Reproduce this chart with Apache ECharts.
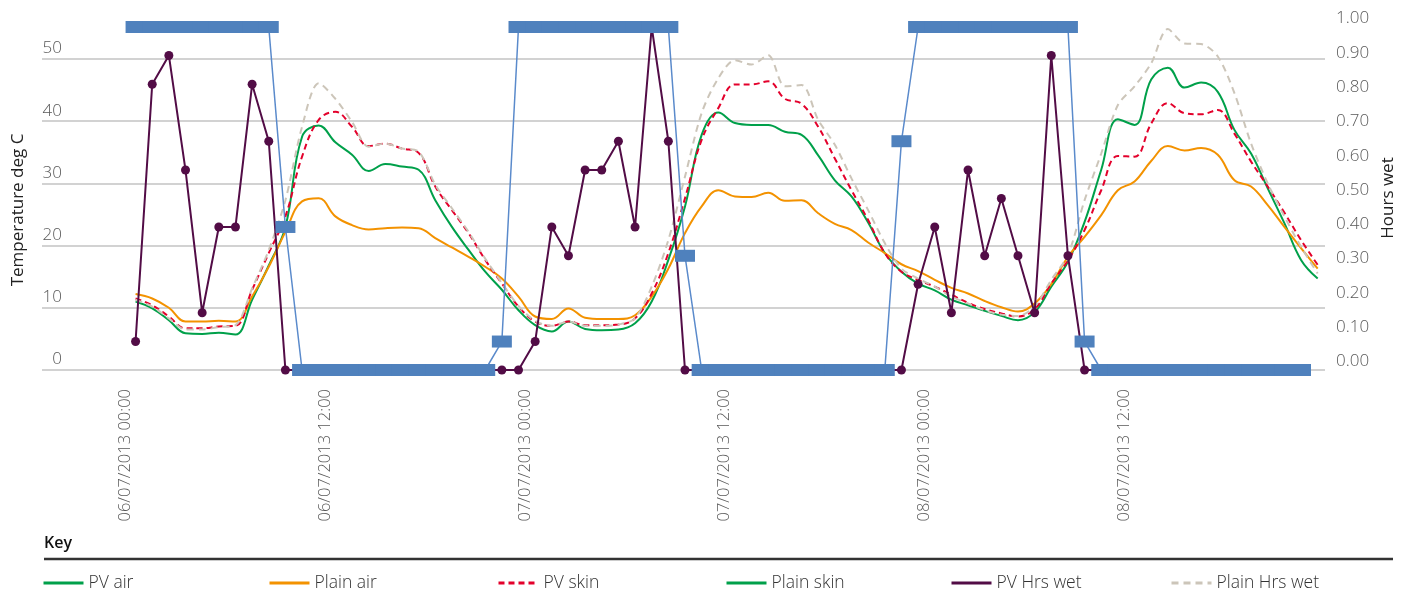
<!DOCTYPE html>
<html><head><meta charset="utf-8">
<script src="https://cdn.jsdelivr.net/npm/echarts@6/dist/echarts.min.js"></script>
<style>html,body{margin:0;padding:0;background:#fff}#c{width:1411px;height:598px}</style>
</head><body><div id="c"></div>
<script>
// Hourly readings (first reading ~00:37 on 06/07/2013)
const firstReadingHour = 0.62;
const pvAir = [11.0,9.9,8.0,5.9,5.8,6.0,5.7,11.3,16.8,23.0,37.5,39.3,36.6,34.6,32.0,33.1,32.7,32.2,27.3,23.0,19.3,15.8,12.9,9.6,
  7.2,6.2,7.8,6.6,6.4,6.5,7.5,11.0,17.7,26.3,37.8,41.4,39.7,39.4,39.4,38.3,37.8,34.5,30.5,27.9,23.7,18.8,15.8,13.9,
  12.8,11.3,10.4,9.5,8.7,8.0,9.3,13.4,17.4,23.8,32.2,40.3,39.4,46.7,48.6,45.4,46.2,44.7,38.6,34.8,29.2,23.6,17.7,14.7];
const plainAir = [12.2,11.5,10.0,7.8,7.8,7.9,7.8,11.8,16.6,22.2,27.1,27.6,24.7,23.3,22.6,22.8,22.9,22.8,21.2,19.7,18.2,16.6,14.7,11.8,
  8.6,8.2,9.9,8.4,8.2,8.2,8.8,11.8,16.3,22.0,26.3,28.9,27.9,27.8,28.5,27.2,27.3,25.2,23.5,22.5,20.5,18.8,17.0,15.9,
  14.5,13.2,12.3,11.1,10.1,9.4,10.7,13.8,18.2,21.4,24.9,28.9,30.3,33.6,36.0,35.3,35.7,34.6,30.5,29.5,26.5,23.0,19.6,16.3];
const pvSkin = [11.5,10.4,8.6,6.7,6.7,7.0,7.1,12.9,18.8,24.7,34.3,40.2,41.5,39.1,36.0,36.4,35.6,34.9,29.5,25.7,22.0,17.7,13.9,10.2,
  7.8,7.1,7.8,7.2,7.2,7.3,8.3,12.3,18.8,27.6,37.0,42.1,45.9,45.9,46.4,43.6,42.8,39.1,34.0,28.9,24.1,18.8,15.8,14.5,
  13.4,12.1,10.8,9.8,9.1,8.6,9.8,13.9,17.6,22.5,28.9,34.4,34.3,39.6,42.9,41.3,41.1,41.8,38.0,33.5,29.5,25.3,20.9,16.9];
const plainSkin = [];
const plainHrsWetGrey = [11.3,10.2,8.3,6.5,6.5,6.9,7.2,13.1,19.3,27.3,39.1,46.1,43.6,39.9,35.9,36.4,35.6,35.1,29.8,26.0,22.2,17.9,14.0,10.3,
  7.9,7.1,7.8,7.1,7.1,7.3,8.3,13.4,20.9,31.1,41.3,46.9,49.8,49.1,50.6,45.6,45.8,40.2,36.2,30.8,25.7,20.4,16.3,14.7,
  13.4,11.8,10.7,9.6,8.9,8.7,10.2,14.5,18.5,27.3,34.8,42.6,45.6,49.3,54.8,52.5,52.4,50.4,44.5,36.4,30.0,24.7,19.8,15.5];
const pvHrsWet = [0.083,0.833,0.917,0.583,0.167,0.417,0.417,0.833,0.667,0,0,0,0,0,0,0,0,0,0,0,0,0,0,0,
  0.083,0.417,0.333,0.583,0.583,0.667,0.417,1.0,0.667,0,0,0,0,0,0,0,0,0,0,0,0,0,0,0.25,
  0.417,0.167,0.583,0.333,0.5,0.333,0.167,0.917,0.333,0,0,0,0,0,0,0,0,0,0,0,0,0,0];
const plainWet = [1,1,1,1,1,1,1,1,1,0.417,0,0,0,0,0,0,0,0,0,0,0,0,0.083,1,
  1,1,1,1,1,1,1,1,1,0.333,0,0,0,0,0,0,0,0,0,0,0,0,0.667,1,
  1,1,1,1,1,1,1,1,1,0.083,0,0,0,0,0,0,0,0,0,0,0,0,0];
const tickHours = [0,12,24,36,48,60];
const tickLabels = ['06/07/2013 00:00','06/07/2013 12:00','07/07/2013 00:00','07/07/2013 12:00','08/07/2013 00:00','08/07/2013 12:00'];
const tempTicks = [0,10,20,30,40,50];
const legendNames = ['PV air','Plain air','PV skin','Plain skin','PV Hrs wet','Plain Hrs wet'];

const pair = arr => arr.map((v, i) => [firstReadingHour + i, v]);
const FONT = '"Open Sans", "Noto Sans", sans-serif';
const labelStyle = {color:'#595959', fontFamily: FONT, fontSize: 17, fontWeight: 300};

const chart = echarts.init(document.getElementById('c'), null, {renderer:'canvas'});
const legendLefts = [37, 263, 492, 720, 945, 1165];
chart.setOption({
  animation: false,
  backgroundColor: '#fff',
  grid: {left: 42, right: 86, top: 27, bottom: 228, containLabel: false},
  xAxis: {
    type: 'value', min: -5, max: 72.06,
    axisLine: {show: false}, axisTick: {show: false}, splitLine: {show: false},
    axisLabel: Object.assign({}, labelStyle, {
      customValues: tickHours, rotate: 90, margin: 19, fontSize: 16.5,
      formatter: v => tickLabels[tickHours.indexOf(v)] || ''
    })
  },
  yAxis: [
    {type: 'value', min: 0, max: 55.14, interval: 10,
     axisLine: {show: false}, axisTick: {show: false}, splitLine: {show: false},
     axisLabel: Object.assign({}, labelStyle, {inside: true, margin: 20, align: 'right', verticalAlign: 'bottom', padding: [0,0,2,0],
       formatter: v => tempTicks.indexOf(v) >= 0 ? String(v) : ''})},
    {type: 'value', min: 0, max: 1, interval: 0.1, position: 'right',
     axisLine: {show: false}, axisTick: {show: false}, splitLine: {show: false},
     axisLabel: Object.assign({}, labelStyle, {margin: 11, verticalAlign: 'bottom',
       formatter: v => v.toFixed(2)})}
  ],
  legend: legendNames.map((n, i) => ({
    data: [n], left: legendLefts[i], top: 569, itemWidth: 40, itemHeight: 14, itemGap: 0,
    itemStyle: {opacity: 0}, lineStyle: {width: 3},
    textStyle: {color: '#333', fontFamily: FONT, fontSize: 17.5, fontWeight: 300},
    selectedMode: false
  })),
  graphic: [
    {type: 'text', x: 18, y: 210, rotation: Math.PI/2,
     style: {text: 'Temperature deg C', fill: '#222', font: '17px ' + FONT, textAlign: 'center', textVerticalAlign: 'middle'}},
    {type: 'text', x: 1388, y: 198, rotation: Math.PI/2,
     style: {text: 'Hours wet', fill: '#222', font: '17px ' + FONT, textAlign: 'center', textVerticalAlign: 'middle'}},
    {type: 'text', x: 44, y: 543,
     style: {text: 'Key', fill: '#111', font: '600 16px ' + FONT, textAlign: 'left', textVerticalAlign: 'middle'}},
    {type: 'line', shape: {x1: 44, y1: 559, x2: 1393, y2: 559}, style: {stroke: '#333', lineWidth: 2.5}}
  ],
  series: [
    {name: 'gridlines', type: 'line', data: [], silent: true, z: 1,
     markLine: {silent: true, z: 1, symbol: ['none','none'], label: {show: false},
       lineStyle: {color: '#C3C3C3', width: 1.5, type: 'solid'},
       data: tempTicks.map(t => ({yAxis: t}))}},
    {name: 'PV air', type: 'line', data: pair(pvAir), smooth: 0.4, showSymbol: false, symbol: 'none',
     color: '#00A04A', lineStyle: {color: '#00A04A', width: 2}, z: 3},
    {name: 'Plain air', type: 'line', data: pair(plainAir), smooth: 0.4, showSymbol: false, symbol: 'none',
     color: '#F39200', lineStyle: {color: '#F39200', width: 2}, z: 3},
    {name: 'PV skin', type: 'line', data: pair(pvSkin), smooth: 0.4, showSymbol: false, symbol: 'none',
     color: '#E3002B', lineStyle: {color: '#E3002B', width: 2, type: [6, 4]}, z: 3},
    {name: 'Plain skin', type: 'line', data: pair(plainSkin), smooth: 0.4, showSymbol: false, symbol: 'none',
     color: '#00A04A', lineStyle: {color: '#00A04A', width: 2}, z: 3},
    {name: 'Plain Hrs wet', type: 'line', data: pair(plainHrsWetGrey), smooth: 0.3, showSymbol: false, symbol: 'none',
     color: '#CCC5B9', lineStyle: {color: '#CCC5B9', width: 2, type: [7, 5]}, z: 3},
    {name: 'PV Hrs wet', type: 'line', yAxisIndex: 1, data: pair(pvHrsWet), symbol: 'circle', symbolSize: 9,
     color: '#520C46', itemStyle: {color: '#520C46'}, lineStyle: {color: '#520C46', width: 2}, z: 4},
    {name: 'Plain wet (hrs)', type: 'line', yAxisIndex: 1, data: pair(plainWet), symbol: 'rect', symbolSize: [20, 12],
     itemStyle: {color: '#4F81BD'}, lineStyle: {color: '#5A8ACB', width: 1.5}, z: 5}
  ]
});
</script></body></html>
